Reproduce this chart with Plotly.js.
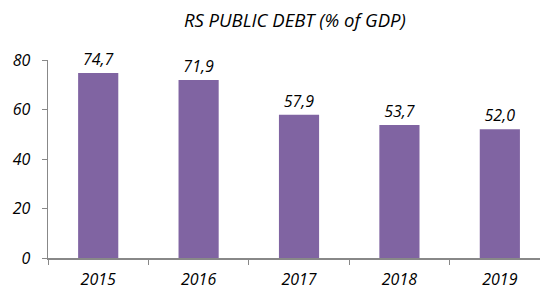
<!DOCTYPE html>
<html><head><meta charset="utf-8">
<script src="https://cdn.plot.ly/plotly-3.0.1.min.js"></script>
<style>body{margin:0;background:#fff}#c{width:540px;height:289px}</style>
</head><body><div id="c"></div>
<script>
const years = ['2015','2016','2017','2018','2019'];
const debt = [74.7, 71.9, 57.9, 53.7, 52.0];
const labels = ['74,7','71,9','57,9','53,7','52,0'];
const yTicks = [0,20,40,60,80];

const fam = '"Open Sans", "Noto Sans", sans-serif';
const fnt = {family:fam, size:16, color:'#000', style:'italic'};
Plotly.newPlot('c', [{
  type:'bar', x: years, y: debt, text: labels, textposition:'outside',
  textfont: fnt, cliponaxis:false,
  marker:{color:'#8064A2'}, hoverinfo:'none'
}], {
  width:540, height:289,
  margin:{l:48, r:0, t:60, b:31},
  paper_bgcolor:'#fff', plot_bgcolor:'#fff',
  bargap:0.6,
  showlegend:false,
  title:{text:'RS PUBLIC DEBT (% of GDP)', font:{family:fam, size:18.5, color:'#000', style:'italic'}, x:0.546, xanchor:'center', y:0.93, yanchor:'middle'},
  xaxis:{type:'category', range:[-0.5,4.4], showline:true, linecolor:'#888', linewidth:1.5,
    ticks:'outside', ticklen:5, tickcolor:'#888', tickson:'boundaries', showgrid:false,
    tickfont:fnt, ticklabelstandoff:6, fixedrange:true},
  yaxis:{range:[0,80], tickvals:yTicks, showline:true, linecolor:'#888', linewidth:1.5,
    ticks:'outside', ticklen:5, tickcolor:'#888', showgrid:false, zeroline:false,
    tickfont:fnt, ticklabelstandoff:8, fixedrange:true}
}, {displayModeBar:false, staticPlot:true});
</script></body></html>
